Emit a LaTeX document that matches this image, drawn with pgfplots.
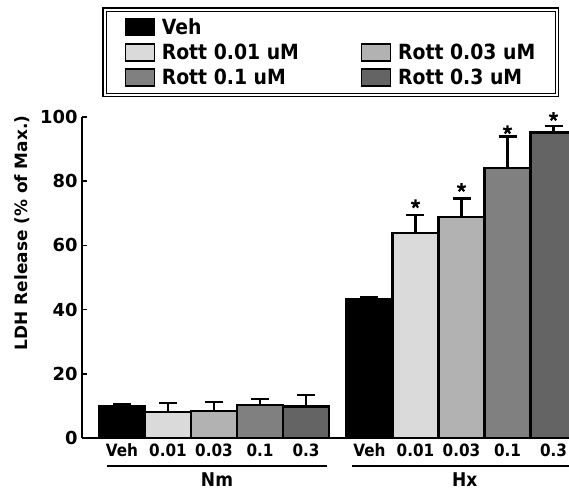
\documentclass[border=0pt]{standalone}
\usepackage{fontspec}
\setmainfont{DejaVu Sans}
\newfontfamily\legfont[FakeStretch=0.9]{DejaVu Sans}
\usepackage{pgfplots}
\pgfplotsset{compat=1.18}
\definecolor{cveh}{RGB}{0,0,0}
\definecolor{ca}{RGB}{218,218,218}
\definecolor{cb}{RGB}{178,178,178}
\definecolor{cc}{RGB}{128,128,128}
\definecolor{cd}{RGB}{100,100,100}
\pgfplotsset{
  mybar/.style={ybar, bar width=46bp, bar shift=0pt, draw=black, line width=2.2bp, fill=#1,
    error bars/.cd, y dir=plus, y explicit,
    error bar style={line width=2.2bp, black},
    error mark options={rotate=90, mark size=9bp, line width=2.2bp, black}},
}
\begin{document}
\begin{tikzpicture}
\useasboundingbox (0,0) rectangle (569bp,-490bp);
\begin{axis}[
  at={(82bp,-438bp)}, anchor=south west, scale only axis,
  width=487bp, height=321bp,
  xmin=0.1304, xmax=10.717, ymin=0, ymax=100,
  axis x line*=bottom, axis y line*=left,
  axis line style={line width=2bp, black},
  clip=false,
  xtick={1,2,3,4,5,6.38,7.38,8.38,9.38,10.38},
  xticklabels={Veh,0.01,0.03,0.1,0.3,Veh,0.01,0.03,0.1,0.3},
  x tick style={draw=none},
  ytick={0,20,40,60,80,100},
  tick align=inside, major tick length=5bp,
  y tick style={line width=1.5bp, black},
  /pgf/number format/assume math mode=true,
  xticklabel style={font=\legfont\fontsize{17}{17}\selectfont\bfseries, yshift=-2bp},
  yticklabel style={font=\fontsize{18}{18}\selectfont\bfseries, xshift=-1bp},
  ylabel={LDH Release (\% of Max.)},
  ylabel style={font=\fontsize{17}{17}\selectfont\bfseries, at={(axis description cs:-0.123,0.639)}, anchor=center, rotate=0},
  legend columns=2,
  legend cell align=left,
  legend image code/.code={\draw[#1, draw=black, line width=1.2bp] (0bp,-8.5bp) rectangle (29bp,8.5bp);},
  legend style={at={(axis description cs:0.04517,1.3364)}, anchor=north west,
    draw=black, double=white, double distance=2bp, line width=1.2bp,
    font=\legfont\fontsize{21}{21}\selectfont\bfseries,
    inner xsep=20bp, inner ysep=7bp, row sep=4bp,
    /tikz/every odd column/.append style={column sep=5bp},
    /tikz/every even column/.append style={column sep=60bp},
    nodes={inner sep=2bp}},
]
\addplot[mybar=cveh] coordinates {(1,10.0) +- (0,0.5) (6.38,43.3) +- (0,0.7)};
\addlegendentry{Veh}
\addlegendimage{empty legend}
\addlegendentry{}
\addplot[mybar=ca] coordinates {(2,8.2) +- (0,2.7) (7.38,63.8) +- (0,5.7)};
\addlegendentry{Rott 0.01 uM}
\addplot[mybar=cb] coordinates {(3,8.5) +- (0,2.8) (8.38,68.9) +- (0,5.7)};
\addlegendentry{Rott 0.03 uM}
\addplot[mybar=cc] coordinates {(4,10.3) +- (0,1.8) (9.38,84.2) +- (0,9.7)};
\addlegendentry{Rott 0.1 uM}
\addplot[mybar=cd] coordinates {(5,9.8) +- (0,3.6) (10.38,95.2) +- (0,2.1)};
\addlegendentry{Rott 0.3 uM}
\addplot[only marks, mark=star, mark size=4.5bp, mark options={line width=2.2bp, black}, forget plot]
  coordinates {(7.38,72.9) (8.38,78.0) (9.38,96.0) (10.38,100.1)};
\draw[line width=1.8bp] ([yshift=-28bp]axis cs:0.674,0) -- ([yshift=-28bp]axis cs:5.456,0);
\draw[line width=1.8bp] ([yshift=-28bp]axis cs:6.0,0) -- ([yshift=-28bp]axis cs:10.9,0);
\node[font=\legfont\fontsize{19}{19}\selectfont\bfseries] at ([yshift=-42bp]axis cs:3.065,0) {Nm};
\node[font=\legfont\fontsize{19}{19}\selectfont\bfseries] at ([yshift=-42bp]axis cs:8.45,0) {Hx};
\end{axis}
\end{tikzpicture}
\end{document}
